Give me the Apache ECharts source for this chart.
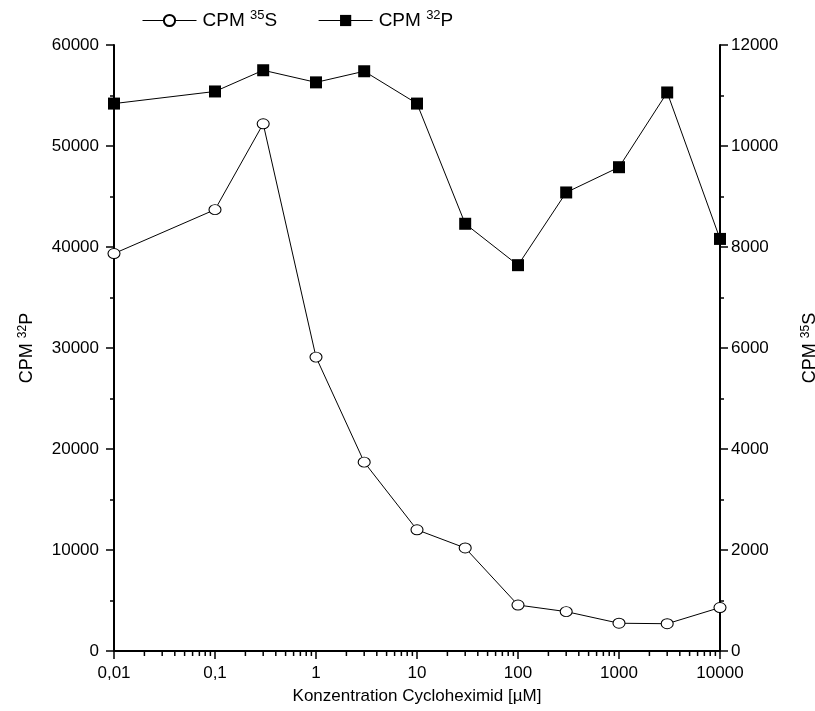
<!DOCTYPE html>
<html lang="de">
<head>
    <meta charset="UTF-8">
    <title>Cycloheximid</title>
    <script src="https://cdn.jsdelivr.net/npm/echarts@6/dist/echarts.min.js"></script>
</head>
<body style="margin: 0; background: #fff">
<div id="container" style="width: 815px; height: 711px"></div>
<script type="text/javascript">
    // Konzentration [µM]
    const conc = [0.01, 0.1, 0.3, 1, 3, 10, 30, 100, 300, 1000, 3000, 10000];
    // CPM 32P (linke Achse)
    const cpmP32 = [54200, 55400, 57500, 56300, 57400, 54200, 42300, 38200, 45400, 47900, 55300, 40800];
    // CPM 35S (rechte Achse)
    const cpmS35 = [7870, 8740, 10440, 5820, 3740, 2400, 2040, 910, 780, 550, 540, 860];

    // kleine Striche der log-Achse
    let minorX = [];
    for (let d = -2; d < 4; d++) {
        for (let k = 2; k < 10; k++) {
            minorX.push([k * Math.pow(10, d), 0]);
        }
    }

    const font = 'Liberation Sans, Arial, sans-serif';
    const sup = {fontSize: 12, lineHeight: 21, verticalAlign: 'top', fontFamily: font, color: '#000'};
    const supL = {fontSize: 13, lineHeight: 23, verticalAlign: 'top', fontFamily: font, color: '#000'};
    const names = {S35: 'CPM {sup|35}S', P32: 'CPM {sup|32}P'};
    const plain = function (v) { return String(v); };

    let myChart = echarts.init(document.getElementById('container'));
    let option = {
        animation: false,
        textStyle: {fontFamily: font, color: '#000'},
        grid: {left: 114, right: 95, top: 45, bottom: 60, outerBoundsMode: 'none', containLabel: false},
        legend: {
            data: ['S35', 'P32'],
            left: 137,
            top: 4,
            itemWidth: 54,
            itemHeight: 14,
            itemGap: 41,
            lineStyle: {width: 1, color: '#000'},
            formatter: function (n) { return names[n]; },
            textStyle: {fontSize: 19, fontFamily: font, color: '#000', padding: [0, 0, 0, 1],
                rich: {sup: supL}}
        },
        xAxis: {
            type: 'log',
            logBase: 10,
            min: 0.01,
            max: 10000,
            interval: 1,
            name: 'Konzentration Cycloheximid [µM]',
            nameLocation: 'middle',
            nameGap: 37,
            nameTextStyle: {fontSize: 17, fontFamily: font, color: '#000'},
            axisLine: {show: true, onZero: false, lineStyle: {color: '#000', width: 2}},
            axisTick: {show: true, length: 8, lineStyle: {color: '#000', width: 1.5}},
            axisLabel: {
                fontSize: 17, color: '#000', fontFamily: font, margin: 14,
                formatter: function (v) { return (+v.toPrecision(6)).toString().replace('.', ','); }
            },
            splitLine: {show: false}
        },
        yAxis: [
            {
                type: 'value',
                min: 0, max: 60000, interval: 10000,
                position: 'left',
                name: 'CPM {sup|32}P',
                nameLocation: 'middle',
                nameRotate: 90,
                nameGap: 76,
                nameTextStyle: {fontSize: 18, fontFamily: font, color: '#000', rich: {sup: sup}},
                axisLine: {show: true, lineStyle: {color: '#000', width: 2}},
                axisTick: {show: true, length: 8, lineStyle: {color: '#000', width: 1.5}},
                minorTick: {show: true, splitNumber: 2, length: 4, lineStyle: {color: '#000', width: 1.5}},
                axisLabel: {fontSize: 17, color: '#000', fontFamily: font, margin: 15, formatter: plain},
                splitLine: {show: false}
            },
            {
                type: 'value',
                min: 0, max: 12000, interval: 2000,
                position: 'right',
                name: 'CPM {sup|35}S',
                nameLocation: 'middle',
                nameRotate: 90,
                nameGap: 80,
                nameTextStyle: {fontSize: 18, fontFamily: font, color: '#000', rich: {sup: sup}},
                axisLine: {show: true, lineStyle: {color: '#000', width: 2}},
                axisTick: {show: true, length: 8, lineStyle: {color: '#000', width: 1.5}},
                minorTick: {show: true, splitNumber: 2, length: 4, lineStyle: {color: '#000', width: 1.5}},
                axisLabel: {fontSize: 17, color: '#000', fontFamily: font, margin: 11, formatter: plain},
                splitLine: {show: false}
            }
        ],
        series: [
            {
                name: 'S35',
                type: 'line',
                yAxisIndex: 1,
                data: conc.map((c, i) => [c, cpmS35[i]]),
                symbol: 'circle',
                symbolSize: [12, 10],
                itemStyle: {color: '#fff', borderColor: '#000', borderWidth: 1},
                lineStyle: {color: '#000', width: 1},
                z: 3
            },
            {
                name: 'P32',
                type: 'line',
                yAxisIndex: 0,
                data: conc.map((c, i) => [c, cpmP32[i]]),
                symbol: 'rect',
                symbolSize: 12,
                itemStyle: {color: '#000'},
                lineStyle: {color: '#000', width: 1},
                z: 3
            },
            {
                // kleine Striche unter der x-Achse
                type: 'custom',
                silent: true,
                clip: false,
                yAxisIndex: 0,
                data: minorX,
                renderItem: function (params, api) {
                    let p = api.coord([api.value(0), 0]);
                    return {
                        type: 'line',
                        shape: {x1: p[0], y1: p[1], x2: p[0], y2: p[1] + 5},
                        style: {stroke: '#000', lineWidth: 1.5}
                    };
                }
            }
        ]
    };
    myChart.setOption(option);
</script>
</body>
</html>
